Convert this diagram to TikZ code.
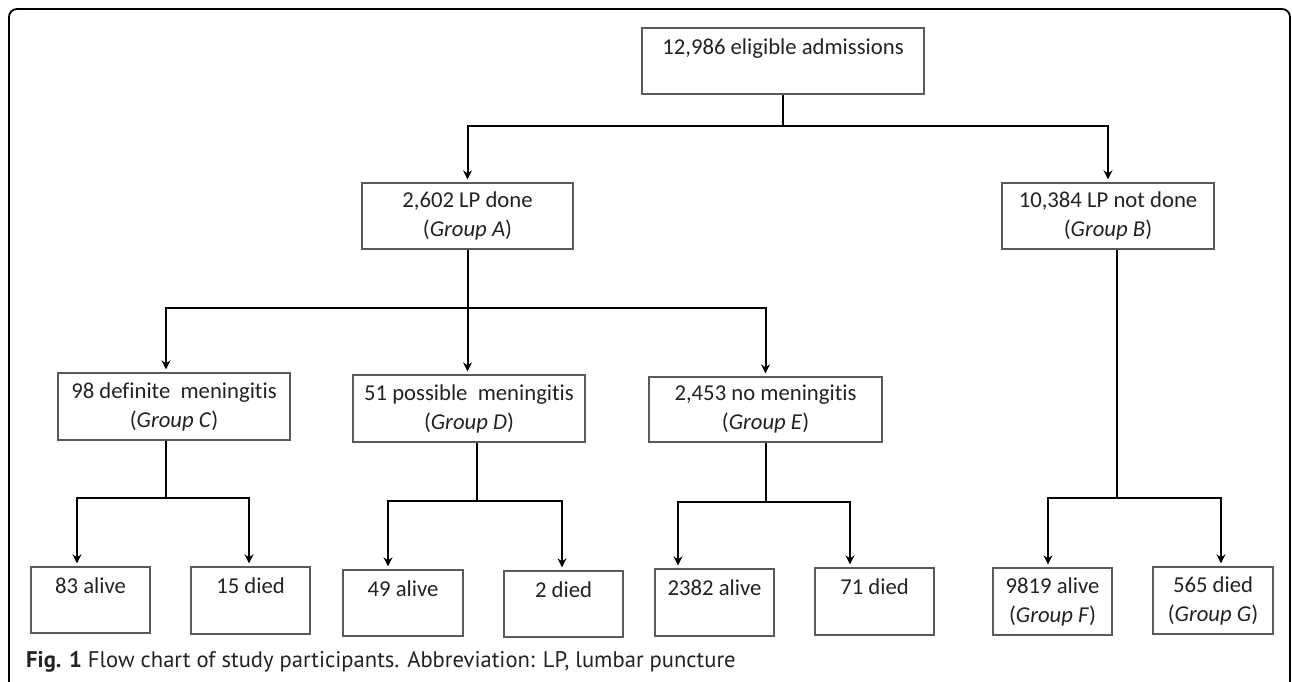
\documentclass[tikz,border=0pt]{standalone}
\usepackage{fontspec}
\setmainfont{Carlito}[Ligatures=NoCommon]
\newfontfamily\capfont{PT Sans}
\usetikzlibrary{arrows.meta,calc}
\definecolor{boxline}{HTML}{5A5A5A}
\definecolor{txt}{HTML}{222222}
\begin{document}
\begin{tikzpicture}[x=1pt,y=-1pt,
  box/.style={draw=boxline,line width=1.3pt,inner sep=0pt,align=center,text=txt,
    font=\fontsize{22.7}{29}\selectfont},
  conn/.style={line width=2pt,black},
  arr/.style={conn,-{Stealth[length=9pt,width=9pt]},shorten >=3pt}]
\useasboundingbox (0,0) rectangle (1292,681);
\draw[line width=1.8pt,rounded corners=8pt] (9,700) -- (9,9) -- (1290,9) -- (1290,700);
% level 0
\node[box,minimum width=282pt,minimum height=66pt] (top) at (783,61) {12,986 eligible admissions\\\mbox{}};
% level 1
\node[box,minimum width=211pt,minimum height=66pt] (A) at (467.5,216) {2,602 LP done\\(\textit{Group A})};
\node[box,minimum width=212pt,minimum height=66pt] (B) at (1108,216) {10,384 LP not done\\(\textit{Group B})};
% level 2
\node[box,minimum width=232pt,minimum height=67pt] (C) at (174,406.5) {98 definite\ \ meningitis\\(\textit{Group C})};
\node[box,minimum width=232pt,minimum height=67pt] (D) at (469,408.5) {51 possible\ \ meningitis\\(\textit{Group D})};
\node[box,minimum width=233pt,minimum height=65pt] (E) at (765.5,409.5) {2,453 no meningitis\\(\textit{Group E})};
% level 3
\node[box,minimum width=119pt,minimum height=66pt] (c1) at (90.5,600) {83 alive\\\mbox{}};
\node[box,minimum width=119pt,minimum height=67pt] (c2) at (250.5,600.5) {15 died\\\mbox{}};
\node[box,minimum width=120pt,minimum height=66pt] (d1) at (403,603) {49 alive\\\mbox{}};
\node[box,minimum width=119pt,minimum height=66pt] (d2) at (563.5,604) {2 died\\\mbox{}};
\node[box,minimum width=119pt,minimum height=67pt] (e1) at (714.5,602.5) {2382 alive\\\mbox{}};
\node[box,minimum width=119pt,minimum height=67pt] (e2) at (874.5,601.5) {71 died\\\mbox{}};
\node[box,minimum width=119pt,minimum height=67pt] (f) at (1052.5,601.5) {9819 alive\\(\textit{Group F})};
\node[box,minimum width=120pt,minimum height=67pt] (g) at (1213,600.5) {565 died\\(\textit{Group G})};
% connectors
\draw[conn] (top.south) -- ++(0,31) coordinate (j0);
\draw[arr] (j0) -| (A.north);
\draw[arr] (j0) -| (B.north);
\draw[conn] (A.south) -- ++(0,58) coordinate (jA);
\draw[arr] (jA) -| ([xshift=-8pt]C.north);
\draw[arr] (jA) -- (D.north -| jA);
\draw[arr] (jA) -| (E.north);
\draw[conn] ([xshift=-8pt]C.south) -- ++(0,57) coordinate (jC);
\draw[arr] (jC) -| ([xshift=-13.5pt]c1.north);
\draw[arr] (jC) -| ([xshift=-1.5pt]c2.north);
\draw[conn] ([xshift=8pt]D.south) -- ++(0,58) coordinate (jD);
\draw[arr] (jD) -| ([xshift=-15pt]d1.north);
\draw[arr] (jD) -| ([xshift=-1.5pt]d2.north);
\draw[conn] (E.south) -- ++(0,59) coordinate (jE);
\draw[arr] (jE) -| ([xshift=-36.5pt]e1.north);
\draw[arr] (jE) -| ([xshift=-24.5pt]e2.north);
\draw[conn] ([xshift=9pt]B.south) -- ++(0,248) coordinate (jB);
\draw[arr] (jB) -| ([xshift=-4.5pt]f.north);
\draw[arr] (jB) -| ([xshift=8pt]g.north);
% caption
\node[anchor=base west,inner sep=0pt,text=txt,font=\capfont\fontsize{22.6}{27}\selectfont] (cap) at (26,667)
  {\textbf{Fig. 1} Flow chart of study participants. Abbreviation: LP, lumbar puncture};
\end{tikzpicture}
\end{document}
